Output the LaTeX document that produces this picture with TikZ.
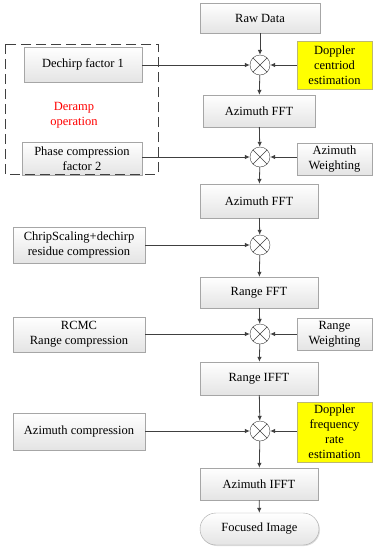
\documentclass[tikz,border=0pt]{standalone}
\usepackage{fontspec}
\setmainfont{Liberation Serif}
\usepackage{xcolor}
\usetikzlibrary{shapes.misc, shadows, arrows.meta}
\definecolor{lineColor}{HTML}{404040}
\definecolor{boxColor}{HTML}{E4E4E4}
\definecolor{markColor}{HTML}{FFFF00}

\begin{document}
\begin{tikzpicture}[x=1pt, y=-1pt,
    font=\fontsize{12.5}{15}\selectfont,
    box/.style={draw=gray!70, top color=white, bottom color=boxColor, align=center,
        inner sep=1pt, drop shadow={shadow xshift=1pt, shadow yshift=-1pt, opacity=0.25}},
    markbox/.style={box, top color=markColor, bottom color=markColor, draw=gray!60!yellow},
    mixer/.style={circle, draw=lineColor, fill=white, minimum size=20pt, inner sep=0pt,
        path picture={\draw[lineColor] (path picture bounding box.north west) -- (path picture bounding box.south east)
            (path picture bounding box.north east) -- (path picture bounding box.south west);}},
    flow/.style={-{Latex[length=5pt, width=4.5pt]}, lineColor, thick}]
    \useasboundingbox (0,0) rectangle (377,550);
    % main column
    \node[box, minimum width=120pt, minimum height=30pt] (raw) at (260,18) {Raw Data};
    \node[mixer] (mix1) at (260,65) {};
    \node[box, minimum width=112pt, minimum height=32pt] (azfft1) at (259,111) {Azimuth FFT};
    \node[mixer] (mix2) at (260,157) {};
    \node[box, minimum width=118pt, minimum height=34pt] (azfft2) at (259,201) {Azimuth FFT};
    \node[mixer] (mix3) at (260,245) {};
    \node[box, minimum width=118pt, minimum height=31pt] (rfft) at (259,292.5) {Range FFT};
    \node[mixer] (mix4) at (260,334) {};
    \node[box, minimum width=118pt, minimum height=33pt] (rifft) at (259,378.5) {Range IFFT};
    \node[mixer] (mix5) at (260,431) {};
    \node[box, minimum width=118pt, minimum height=32pt] (azifft) at (259,484) {Azimuth IFFT};
    \node[box, rounded rectangle, minimum width=121pt, minimum height=32pt] (focus) at (259.5,529) {Focused Image};
    % left column
    \node[box, minimum width=118pt, minimum height=35pt] (dechirp) at (83,64.5) {Dechirp factor 1};
    \node[box, minimum width=120pt, minimum height=33pt] (phase) at (82,158.5) {Phase compression\\factor 2};
    \node[box, minimum width=132pt, minimum height=36pt] (chirp) at (79,245) {ChripScaling+dechirp\\residue compression};
    \node[box, minimum width=132pt, minimum height=35pt] (rcmc) at (79,334.5) {RCMC\\Range compression};
    \node[box, minimum width=132pt, minimum height=37pt] (azcomp) at (79,431.5) {Azimuth compression};
    % right column
    \node[markbox, minimum width=75pt, minimum height=48pt] (dopcen) at (334.5,65) {Doppler\\centriod\\estimation};
    \node[box, minimum width=75pt, minimum height=32pt] (azweight) at (334.5,159) {Azimuth\\Weighting};
    \node[box, minimum width=75pt, minimum height=32pt] (rweight) at (334.5,334) {Range\\Weighting};
    \node[markbox, minimum width=75pt, minimum height=60pt] (doprate) at (334.5,432) {Doppler\\frequency\\rate\\estimation};
    % deramp group
    \draw[lineColor, line width=1pt, dash pattern=on 10pt off 5pt] (5,44) rectangle (158,174);
    \node[red, align=center] (deramp) at (74,115) {Deramp\\operation};
    % connectors
    \draw[flow] (raw) -- (mix1);
    \draw[flow] (mix1) -- (azfft1);
    \draw[flow] (azfft1) -- (mix2);
    \draw[flow] (mix2) -- (azfft2);
    \draw[flow] (azfft2) -- (mix3);
    \draw[flow] (mix3) -- (rfft);
    \draw[flow] (rfft) -- (mix4);
    \draw[flow] (mix4) -- (rifft);
    \draw[flow] (rifft) -- (mix5);
    \draw[flow] (mix5) -- (azifft);
    \draw[flow] (azifft) -- (focus);
    \draw[flow] (dechirp.east |- mix1) -- (mix1);
    \draw[flow] (phase.east |- mix2) -- (mix2);
    \draw[flow] (chirp.east |- mix3) -- (mix3);
    \draw[flow] (rcmc.east |- mix4) -- (mix4);
    \draw[flow] (azcomp.east |- mix5) -- (mix5);
    \draw[flow] (dopcen.west |- mix1) -- (mix1);
    \draw[flow] (azweight.west |- mix2) -- (mix2);
    \draw[flow] (rweight.west |- mix4) -- (mix4);
    \draw[flow] (doprate.west |- mix5) -- (mix5);
\end{tikzpicture}
\end{document}
